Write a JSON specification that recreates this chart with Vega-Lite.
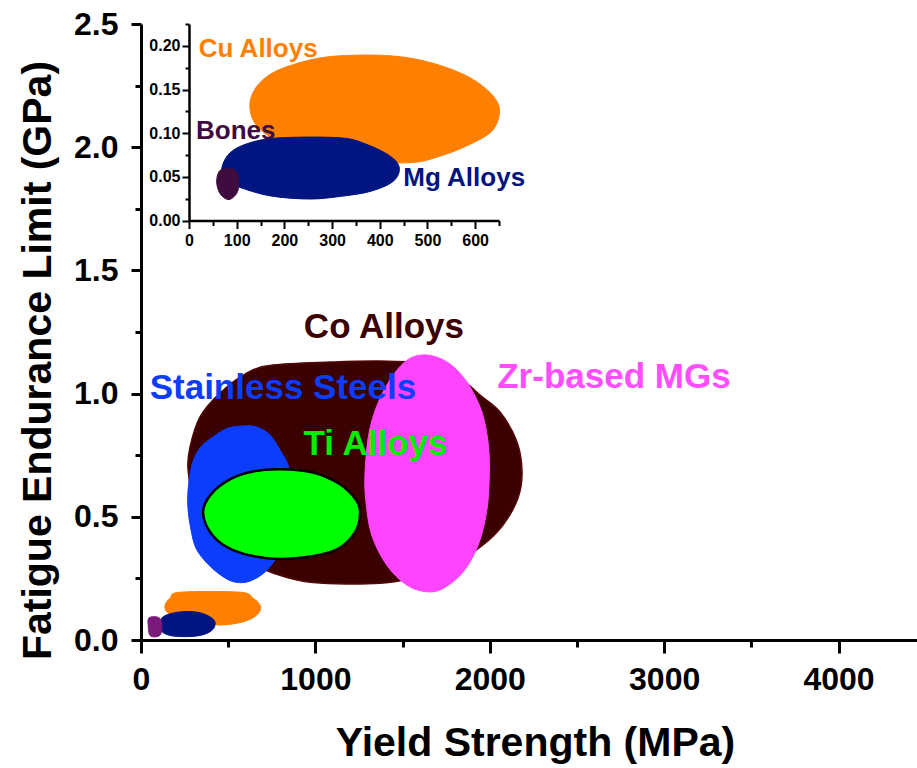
{
  "$schema": "https://vega.github.io/schema/vega-lite/v6.json",
  "width": 776,
  "height": 616,
  "autosize": {"type": "none"},
  "padding": {"left": 141, "top": 24, "right": 0, "bottom": 128},
  "background": "white",
  "config": {
    "view": {"stroke": null},
    "font": "Liberation Sans",
    "axis": {
      "grid": false,
      "domainColor": "black",
      "tickColor": "black",
      "labelColor": "black",
      "titleColor": "black",
      "labelFont": "Liberation Sans",
      "titleFont": "Liberation Sans",
      "labelFontWeight": "bold",
      "titleFontWeight": "bold",
      "labelOverlap": false,
      "labelFlush": false
    }
  },
  "datasets": {
    "main": [
      {"m": "Co Alloys", "i": 0, "x": 270, "y": 0.690},
      {"m": "Co Alloys", "i": 1, "x": 281, "y": 0.783},
      {"m": "Co Alloys", "i": 2, "x": 338, "y": 0.905},
      {"m": "Co Alloys", "i": 3, "x": 453, "y": 1.002},
      {"m": "Co Alloys", "i": 4, "x": 608, "y": 1.084},
      {"m": "Co Alloys", "i": 5, "x": 757, "y": 1.116},
      {"m": "Co Alloys", "i": 6, "x": 1084, "y": 1.128},
      {"m": "Co Alloys", "i": 7, "x": 1371, "y": 1.132},
      {"m": "Co Alloys", "i": 8, "x": 1657, "y": 1.120},
      {"m": "Co Alloys", "i": 9, "x": 1829, "y": 1.063},
      {"m": "Co Alloys", "i": 10, "x": 1944, "y": 0.994},
      {"m": "Co Alloys", "i": 11, "x": 2059, "y": 0.925},
      {"m": "Co Alloys", "i": 12, "x": 2156, "y": 0.804},
      {"m": "Co Alloys", "i": 13, "x": 2185, "y": 0.682},
      {"m": "Co Alloys", "i": 14, "x": 2162, "y": 0.576},
      {"m": "Co Alloys", "i": 15, "x": 2076, "y": 0.467},
      {"m": "Co Alloys", "i": 16, "x": 1961, "y": 0.386},
      {"m": "Co Alloys", "i": 17, "x": 1801, "y": 0.312},
      {"m": "Co Alloys", "i": 18, "x": 1600, "y": 0.260},
      {"m": "Co Alloys", "i": 19, "x": 1371, "y": 0.230},
      {"m": "Co Alloys", "i": 20, "x": 986, "y": 0.233},
      {"m": "Co Alloys", "i": 21, "x": 757, "y": 0.272},
      {"m": "Co Alloys", "i": 22, "x": 568, "y": 0.333},
      {"m": "Co Alloys", "i": 23, "x": 407, "y": 0.426},
      {"m": "Co Alloys", "i": 24, "x": 310, "y": 0.548},

      {"m": "Stainless Steels", "i": 0, "x": 596, "y": 0.869},
      {"m": "Stainless Steels", "i": 1, "x": 665, "y": 0.864},
      {"m": "Stainless Steels", "i": 2, "x": 740, "y": 0.832},
      {"m": "Stainless Steels", "i": 3, "x": 797, "y": 0.771},
      {"m": "Stainless Steels", "i": 4, "x": 843, "y": 0.710},
      {"m": "Stainless Steels", "i": 5, "x": 866, "y": 0.609},
      {"m": "Stainless Steels", "i": 6, "x": 860, "y": 0.507},
      {"m": "Stainless Steels", "i": 7, "x": 849, "y": 0.446},
      {"m": "Stainless Steels", "i": 8, "x": 814, "y": 0.377},
      {"m": "Stainless Steels", "i": 9, "x": 723, "y": 0.284},
      {"m": "Stainless Steels", "i": 10, "x": 625, "y": 0.239},
      {"m": "Stainless Steels", "i": 11, "x": 539, "y": 0.235},
      {"m": "Stainless Steels", "i": 12, "x": 464, "y": 0.260},
      {"m": "Stainless Steels", "i": 13, "x": 378, "y": 0.312},
      {"m": "Stainless Steels", "i": 14, "x": 315, "y": 0.373},
      {"m": "Stainless Steels", "i": 15, "x": 287, "y": 0.446},
      {"m": "Stainless Steels", "i": 16, "x": 270, "y": 0.528},
      {"m": "Stainless Steels", "i": 17, "x": 270, "y": 0.609},
      {"m": "Stainless Steels", "i": 18, "x": 292, "y": 0.710},
      {"m": "Stainless Steels", "i": 19, "x": 338, "y": 0.779},
      {"m": "Stainless Steels", "i": 20, "x": 413, "y": 0.824},
      {"m": "Stainless Steels", "i": 21, "x": 499, "y": 0.860},

      {"m": "Ti Alloys", "i": 0, "x": 797, "y": 0.693},
      {"m": "Ti Alloys", "i": 1, "x": 986, "y": 0.680},
      {"m": "Ti Alloys", "i": 2, "x": 1141, "y": 0.632},
      {"m": "Ti Alloys", "i": 3, "x": 1236, "y": 0.566},
      {"m": "Ti Alloys", "i": 4, "x": 1256, "y": 0.515},
      {"m": "Ti Alloys", "i": 5, "x": 1230, "y": 0.440},
      {"m": "Ti Alloys", "i": 6, "x": 1124, "y": 0.368},
      {"m": "Ti Alloys", "i": 7, "x": 929, "y": 0.335},
      {"m": "Ti Alloys", "i": 8, "x": 723, "y": 0.332},
      {"m": "Ti Alloys", "i": 9, "x": 528, "y": 0.365},
      {"m": "Ti Alloys", "i": 10, "x": 410, "y": 0.425},
      {"m": "Ti Alloys", "i": 11, "x": 356, "y": 0.515},
      {"m": "Ti Alloys", "i": 12, "x": 400, "y": 0.590},
      {"m": "Ti Alloys", "i": 13, "x": 510, "y": 0.652},
      {"m": "Ti Alloys", "i": 14, "x": 642, "y": 0.684},

      {"m": "Zr-based MGs", "i": 0, "x": 1619, "y": 1.157},
      {"m": "Zr-based MGs", "i": 1, "x": 1753, "y": 1.129},
      {"m": "Zr-based MGs", "i": 2, "x": 1868, "y": 1.048},
      {"m": "Zr-based MGs", "i": 3, "x": 1954, "y": 0.927},
      {"m": "Zr-based MGs", "i": 4, "x": 1992, "y": 0.791},
      {"m": "Zr-based MGs", "i": 5, "x": 1997, "y": 0.657},
      {"m": "Zr-based MGs", "i": 6, "x": 1982, "y": 0.521},
      {"m": "Zr-based MGs", "i": 7, "x": 1934, "y": 0.386},
      {"m": "Zr-based MGs", "i": 8, "x": 1848, "y": 0.277},
      {"m": "Zr-based MGs", "i": 9, "x": 1734, "y": 0.210},
      {"m": "Zr-based MGs", "i": 10, "x": 1638, "y": 0.196},
      {"m": "Zr-based MGs", "i": 11, "x": 1524, "y": 0.223},
      {"m": "Zr-based MGs", "i": 12, "x": 1409, "y": 0.304},
      {"m": "Zr-based MGs", "i": 13, "x": 1323, "y": 0.426},
      {"m": "Zr-based MGs", "i": 14, "x": 1290, "y": 0.561},
      {"m": "Zr-based MGs", "i": 15, "x": 1285, "y": 0.683},
      {"m": "Zr-based MGs", "i": 16, "x": 1313, "y": 0.859},
      {"m": "Zr-based MGs", "i": 17, "x": 1389, "y": 1.008},
      {"m": "Zr-based MGs", "i": 18, "x": 1504, "y": 1.123},

      {"m": "Cu Alloys", "i": 0, "x": 138, "y": 0.142},
      {"m": "Cu Alloys", "i": 1, "x": 166, "y": 0.169},
      {"m": "Cu Alloys", "i": 2, "x": 224, "y": 0.194},
      {"m": "Cu Alloys", "i": 3, "x": 568, "y": 0.194},
      {"m": "Cu Alloys", "i": 4, "x": 644, "y": 0.169},
      {"m": "Cu Alloys", "i": 5, "x": 686, "y": 0.135},
      {"m": "Cu Alloys", "i": 6, "x": 663, "y": 0.101},
      {"m": "Cu Alloys", "i": 7, "x": 587, "y": 0.074},
      {"m": "Cu Alloys", "i": 8, "x": 453, "y": 0.061},
      {"m": "Cu Alloys", "i": 9, "x": 300, "y": 0.075},
      {"m": "Cu Alloys", "i": 10, "x": 190, "y": 0.100},
      {"m": "Cu Alloys", "i": 11, "x": 147, "y": 0.115},

      {"m": "Mg Alloys", "i": 0, "x": 109, "y": 0.061},
      {"m": "Mg Alloys", "i": 1, "x": 128, "y": 0.095},
      {"m": "Mg Alloys", "i": 2, "x": 205, "y": 0.112},
      {"m": "Mg Alloys", "i": 3, "x": 300, "y": 0.115},
      {"m": "Mg Alloys", "i": 4, "x": 377, "y": 0.101},
      {"m": "Mg Alloys", "i": 5, "x": 424, "y": 0.074},
      {"m": "Mg Alloys", "i": 6, "x": 405, "y": 0.038},
      {"m": "Mg Alloys", "i": 7, "x": 319, "y": 0.016},
      {"m": "Mg Alloys", "i": 8, "x": 185, "y": 0.016},
      {"m": "Mg Alloys", "i": 9, "x": 119, "y": 0.034},

      {"m": "Bones", "i": 0, "x": 42, "y": 0.054},
      {"m": "Bones", "i": 1, "x": 46, "y": 0.090},
      {"m": "Bones", "i": 2, "x": 99, "y": 0.092},
      {"m": "Bones", "i": 3, "x": 119, "y": 0.068},
      {"m": "Bones", "i": 4, "x": 110, "y": 0.020},
      {"m": "Bones", "i": 5, "x": 55, "y": 0.016}
    ],
    "inset": [
      {"m": "Cu Alloys", "i": 0, "x": 128, "y": 0.1273},
      {"m": "Cu Alloys", "i": 1, "x": 138, "y": 0.1503},
      {"m": "Cu Alloys", "i": 2, "x": 177, "y": 0.1695},
      {"m": "Cu Alloys", "i": 3, "x": 247, "y": 0.1828},
      {"m": "Cu Alloys", "i": 4, "x": 317, "y": 0.1886},
      {"m": "Cu Alloys", "i": 5, "x": 422, "y": 0.1886},
      {"m": "Cu Alloys", "i": 6, "x": 505, "y": 0.1810},
      {"m": "Cu Alloys", "i": 7, "x": 582, "y": 0.1656},
      {"m": "Cu Alloys", "i": 8, "x": 631, "y": 0.1465},
      {"m": "Cu Alloys", "i": 9, "x": 651, "y": 0.1273},
      {"m": "Cu Alloys", "i": 10, "x": 638, "y": 0.1043},
      {"m": "Cu Alloys", "i": 11, "x": 596, "y": 0.0890},
      {"m": "Cu Alloys", "i": 12, "x": 526, "y": 0.0736},
      {"m": "Cu Alloys", "i": 13, "x": 456, "y": 0.0660},
      {"m": "Cu Alloys", "i": 14, "x": 317, "y": 0.0698},
      {"m": "Cu Alloys", "i": 15, "x": 212, "y": 0.0851},
      {"m": "Cu Alloys", "i": 16, "x": 149, "y": 0.1043},

      {"m": "Mg Alloys", "i": 0, "x": 68.5, "y": 0.0583},
      {"m": "Mg Alloys", "i": 1, "x": 86, "y": 0.0775},
      {"m": "Mg Alloys", "i": 2, "x": 128, "y": 0.0890},
      {"m": "Mg Alloys", "i": 3, "x": 191, "y": 0.0947},
      {"m": "Mg Alloys", "i": 4, "x": 317, "y": 0.0947},
      {"m": "Mg Alloys", "i": 5, "x": 373, "y": 0.0870},
      {"m": "Mg Alloys", "i": 6, "x": 422, "y": 0.0736},
      {"m": "Mg Alloys", "i": 7, "x": 441, "y": 0.0602},
      {"m": "Mg Alloys", "i": 8, "x": 428, "y": 0.0448},
      {"m": "Mg Alloys", "i": 9, "x": 380, "y": 0.0333},
      {"m": "Mg Alloys", "i": 10, "x": 317, "y": 0.0276},
      {"m": "Mg Alloys", "i": 11, "x": 254, "y": 0.0246},
      {"m": "Mg Alloys", "i": 12, "x": 177, "y": 0.0276},
      {"m": "Mg Alloys", "i": 13, "x": 121, "y": 0.0353},
      {"m": "Mg Alloys", "i": 14, "x": 82, "y": 0.0448},

      {"m": "Bones", "i": 0, "x": 58, "y": 0.0437},
      {"m": "Bones", "i": 1, "x": 63, "y": 0.0560},
      {"m": "Bones", "i": 2, "x": 75.5, "y": 0.0590},
      {"m": "Bones", "i": 3, "x": 93, "y": 0.0590},
      {"m": "Bones", "i": 4, "x": 101, "y": 0.0550},
      {"m": "Bones", "i": 5, "x": 104, "y": 0.0448},
      {"m": "Bones", "i": 6, "x": 101, "y": 0.0320},
      {"m": "Bones", "i": 7, "x": 84, "y": 0.0240},
      {"m": "Bones", "i": 8, "x": 66, "y": 0.0300}
    ],
    "mainLabels": [
      {"label": "Co Alloys", "x": 1393, "y": 1.226},
      {"label": "Stainless Steels", "x": 814, "y": 0.978},
      {"label": "Ti Alloys", "x": 1345, "y": 0.751},
      {"label": "Zr-based MGs", "x": 2712, "y": 1.024}
    ],
    "insetLabels": [
      {"label": "Cu Alloys", "x": 145, "y": 0.1874},
      {"label": "Bones", "x": 98, "y": 0.0936},
      {"label": "Mg Alloys", "x": 577, "y": 0.0391}
    ]
  },
  "layer": [
    {
      "data": {"name": "main"},
      "transform": [{"filter": "datum.m === 'Co Alloys'"}],
      "mark": {"type": "line", "interpolate": "cardinal-closed", "fill": "#3b0000", "stroke": "#560808", "strokeWidth": 1.5},
      "encoding": {
        "x": {
          "field": "x", "type": "quantitative",
          "scale": {"domain": [0, 4450], "nice": false, "zero": false},
          "axis": {
            "orient": "bottom",
            "title": "Yield Strength (MPa)",
            "values": [0, 1000, 2000, 3000, 4000],
            "format": "d",
            "tickSize": 13,
            "tickWidth": 3,
            "domainWidth": 3,
            "labelFontSize": 32,
            "labelPadding": 11,
            "titleFontSize": 41,
            "titleX": 394,
            "titleY": 115,
            "titleBaseline": "alphabetic",
            "titleAlign": "center"
          }
        },
        "y": {
          "field": "y", "type": "quantitative",
          "scale": {"domain": [0, 2.5], "nice": false, "zero": false},
          "axis": {
            "orient": "left",
            "title": "Fatigue Endurance Limit (GPa)",
            "values": [0, 0.5, 1, 1.5, 2, 2.5],
            "format": ".1f",
            "tickSize": 10,
            "tickWidth": 3,
            "domainWidth": 3,
            "labelFontSize": 32,
            "labelPadding": 13,
            "titleFontSize": 41,
            "titleAngle": 270,
            "titleX": -91,
            "titleY": 336,
            "titleBaseline": "alphabetic",
            "titleAlign": "center"
          }
        },
        "order": {"field": "i", "type": "quantitative"}
      }
    },
    {
      "data": {"name": "main"},
      "transform": [{"filter": "datum.m === 'Stainless Steels'"}],
      "mark": {"type": "line", "interpolate": "cardinal-closed", "fill": "#0d3dfc", "stroke": "#0d3dfc", "strokeWidth": 1},
      "encoding": {
        "x": {
          "field": "x", "type": "quantitative",
          "scale": {"domain": [0, 4450], "nice": false, "zero": false},
          "axis": {
            "orient": "bottom", "title": null, "domain": false, "labels": false,
            "values": [500, 1500, 2500, 3500],
            "tickSize": 7, "tickWidth": 3
          }
        },
        "y": {
          "field": "y", "type": "quantitative",
          "scale": {"domain": [0, 2.5], "nice": false, "zero": false},
          "axis": {
            "orient": "left", "title": null, "domain": false, "labels": false,
            "values": [0.25, 0.75, 1.25, 1.75, 2.25],
            "tickSize": 6, "tickWidth": 3
          }
        },
        "order": {"field": "i", "type": "quantitative"}
      }
    },
    {
      "data": {"name": "main"},
      "transform": [{"filter": "datum.m === 'Ti Alloys'"}],
      "mark": {"type": "line", "interpolate": "cardinal-closed", "fill": "#00ff00", "stroke": "black", "strokeWidth": 2.5},
      "encoding": {
        "x": {"field": "x", "type": "quantitative", "scale": {"domain": [0, 4450], "nice": false, "zero": false}, "axis": null},
        "y": {"field": "y", "type": "quantitative", "scale": {"domain": [0, 2.5], "nice": false, "zero": false}, "axis": null},
        "order": {"field": "i", "type": "quantitative"}
      }
    },
    {
      "data": {"name": "main"},
      "transform": [{"filter": "datum.m === 'Zr-based MGs'"}],
      "mark": {"type": "line", "interpolate": "cardinal-closed", "fill": "#ff44ff", "stroke": "#ff44ff", "strokeWidth": 1},
      "encoding": {
        "x": {"field": "x", "type": "quantitative", "scale": {"domain": [0, 4450], "nice": false, "zero": false}, "axis": null},
        "y": {"field": "y", "type": "quantitative", "scale": {"domain": [0, 2.5], "nice": false, "zero": false}, "axis": null},
        "order": {"field": "i", "type": "quantitative"}
      }
    },
    {
      "data": {"name": "main"},
      "transform": [{"filter": "datum.m === 'Cu Alloys'"}],
      "mark": {"type": "line", "interpolate": "cardinal-closed", "fill": "#ff8000", "stroke": "#ff8000", "strokeWidth": 1},
      "encoding": {
        "x": {"field": "x", "type": "quantitative", "scale": {"domain": [0, 4450], "nice": false, "zero": false}, "axis": null},
        "y": {"field": "y", "type": "quantitative", "scale": {"domain": [0, 2.5], "nice": false, "zero": false}, "axis": null},
        "order": {"field": "i", "type": "quantitative"}
      }
    },
    {
      "data": {"name": "main"},
      "transform": [{"filter": "datum.m === 'Mg Alloys'"}],
      "mark": {"type": "line", "interpolate": "cardinal-closed", "fill": "#00157f", "stroke": "#00157f", "strokeWidth": 1},
      "encoding": {
        "x": {"field": "x", "type": "quantitative", "scale": {"domain": [0, 4450], "nice": false, "zero": false}, "axis": null},
        "y": {"field": "y", "type": "quantitative", "scale": {"domain": [0, 2.5], "nice": false, "zero": false}, "axis": null},
        "order": {"field": "i", "type": "quantitative"}
      }
    },
    {
      "data": {"name": "main"},
      "transform": [{"filter": "datum.m === 'Bones'"}],
      "mark": {"type": "line", "interpolate": "cardinal-closed", "fill": "#7a1a7a", "stroke": "#7a1a7a", "strokeWidth": 1},
      "encoding": {
        "x": {"field": "x", "type": "quantitative", "scale": {"domain": [0, 4450], "nice": false, "zero": false}, "axis": null},
        "y": {"field": "y", "type": "quantitative", "scale": {"domain": [0, 2.5], "nice": false, "zero": false}, "axis": null},
        "order": {"field": "i", "type": "quantitative"}
      }
    },
    {
      "data": {"name": "mainLabels"},
      "mark": {"type": "text", "font": "Liberation Sans", "fontWeight": "bold", "fontSize": 35, "baseline": "alphabetic", "align": "center"},
      "encoding": {
        "x": {"field": "x", "type": "quantitative", "scale": {"domain": [0, 4450], "nice": false, "zero": false}, "axis": null},
        "y": {"field": "y", "type": "quantitative", "scale": {"domain": [0, 2.5], "nice": false, "zero": false}, "axis": null},
        "text": {"field": "label"},
        "color": {
          "field": "label", "type": "nominal", "legend": null,
          "scale": {
            "domain": ["Co Alloys", "Stainless Steels", "Ti Alloys", "Zr-based MGs"],
            "range": ["#3b0000", "#0d3dfc", "#00ee00", "#ff4dff"]
          }
        }
      }
    },
    {
      "data": {"name": "inset"},
      "transform": [{"filter": "datum.m === 'Cu Alloys'"}],
      "mark": {"type": "line", "interpolate": "cardinal-closed", "fill": "#ff8000", "stroke": "#ff8000", "strokeWidth": 1},
      "encoding": {
        "x": {
          "field": "x", "type": "quantitative",
          "scale": {"domain": [0, 650], "range": [48, 358], "nice": false, "zero": false},
          "axis": {
            "orient": "bottom",
            "title": null,
            "offset": -419.5,
            "values": [0, 100, 200, 300, 400, 500, 600],
            "format": "d",
            "tickSize": 8,
            "tickWidth": 2,
            "domainWidth": 2.5,
            "labelFontSize": 16,
            "labelPadding": 3.5
          }
        },
        "y": {
          "field": "y", "type": "quantitative",
          "scale": {"domain": [0, 0.225], "range": [196.5, 0], "nice": false, "zero": false},
          "axis": {
            "orient": "left",
            "title": null,
            "offset": -48,
            "values": [0, 0.05, 0.1, 0.15, 0.2],
            "format": ".2f",
            "tickSize": 7,
            "tickWidth": 2,
            "domainWidth": 2.5,
            "labelFontSize": 16,
            "labelPadding": 2
          }
        },
        "order": {"field": "i", "type": "quantitative"}
      }
    },
    {
      "data": {"name": "inset"},
      "transform": [{"filter": "datum.m === 'Mg Alloys'"}],
      "mark": {"type": "line", "interpolate": "cardinal-closed", "fill": "#00157f", "stroke": "#00157f", "strokeWidth": 1},
      "encoding": {
        "x": {
          "field": "x", "type": "quantitative",
          "scale": {"domain": [0, 650], "range": [48, 358], "nice": false, "zero": false},
          "axis": {
            "orient": "bottom", "title": null, "domain": false, "labels": false,
            "offset": -419.5,
            "values": [50, 150, 250, 350, 450, 550, 650],
            "tickSize": 5, "tickWidth": 2
          }
        },
        "y": {
          "field": "y", "type": "quantitative",
          "scale": {"domain": [0, 0.225], "range": [196.5, 0], "nice": false, "zero": false},
          "axis": {
            "orient": "left", "title": null, "domain": false, "labels": false,
            "offset": -48,
            "values": [0.025, 0.075, 0.125, 0.175, 0.225],
            "tickSize": 4, "tickWidth": 2
          }
        },
        "order": {"field": "i", "type": "quantitative"}
      }
    },
    {
      "data": {"name": "inset"},
      "transform": [{"filter": "datum.m === 'Bones'"}],
      "mark": {"type": "line", "interpolate": "cardinal-closed", "fill": "#3f0c40", "stroke": "#3f0c40", "strokeWidth": 1},
      "encoding": {
        "x": {"field": "x", "type": "quantitative", "scale": {"domain": [0, 650], "range": [48, 358], "nice": false, "zero": false}, "axis": null},
        "y": {"field": "y", "type": "quantitative", "scale": {"domain": [0, 0.225], "range": [196.5, 0], "nice": false, "zero": false}, "axis": null},
        "order": {"field": "i", "type": "quantitative"}
      }
    },
    {
      "data": {"name": "insetLabels"},
      "mark": {"type": "text", "font": "Liberation Sans", "fontWeight": "bold", "fontSize": 26, "baseline": "alphabetic", "align": "center"},
      "encoding": {
        "x": {"field": "x", "type": "quantitative", "scale": {"domain": [0, 650], "range": [48, 358], "nice": false, "zero": false}, "axis": null},
        "y": {"field": "y", "type": "quantitative", "scale": {"domain": [0, 0.225], "range": [196.5, 0], "nice": false, "zero": false}, "axis": null},
        "text": {"field": "label"},
        "color": {
          "field": "label", "type": "nominal", "legend": null,
          "scale": {
            "domain": ["Cu Alloys", "Bones", "Mg Alloys"],
            "range": ["#ff8000", "#3f0c40", "#00157f"]
          }
        }
      }
    }
  ],
  "resolve": {
    "scale": {"x": "independent", "y": "independent", "color": "independent"},
    "axis": {"x": "independent", "y": "independent"}
  }
}
